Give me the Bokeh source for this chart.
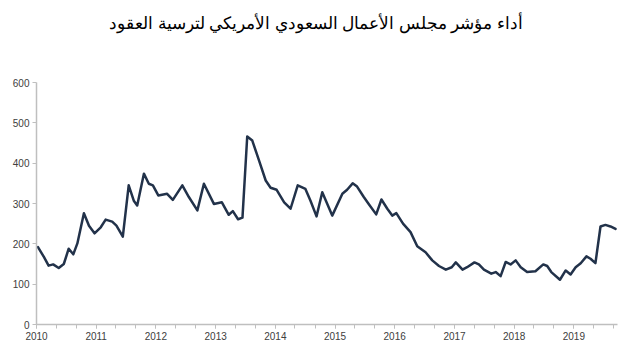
import pandas as pd
from datetime import datetime
from bokeh.plotting import figure
from bokeh.models import Range1d, FixedTicker, ColumnDataSource, Label
from bokeh.embed import file_html
from bokeh.resources import INLINE

title_text = "أداء مؤشر مجلس الأعمال السعودي الأمريكي لترسية العقود"

dates = [
    "2010-01-10", "2010-02-16", "2010-03-16", "2010-04-13", "2010-05-17", "2010-06-17",
    "2010-07-17", "2010-08-14", "2010-09-08", "2010-10-18", "2010-11-18", "2010-12-22",
    "2011-01-29", "2011-02-28", "2011-04-09", "2011-05-05", "2011-06-13", "2011-07-19",
    "2011-08-19", "2011-09-09", "2011-10-20", "2011-11-19", "2011-12-14", "2012-01-16",
    "2012-03-10", "2012-04-14", "2012-06-11", "2012-07-21", "2012-09-11", "2012-10-21",
    "2012-12-21", "2013-02-08", "2013-03-22", "2013-04-16", "2013-05-18", "2013-06-14",
    "2013-07-13", "2013-08-13", "2013-09-23", "2013-11-03", "2013-12-03", "2014-01-09",
    "2014-02-24", "2014-04-04", "2014-05-18", "2014-07-04", "2014-08-04", "2014-09-10",
    "2014-10-15", "2014-12-15", "2015-02-15", "2015-03-16", "2015-04-19", "2015-05-16",
    "2015-06-26", "2015-07-26", "2015-09-10", "2015-10-12", "2015-11-17", "2015-12-17",
    "2016-01-11", "2016-02-21", "2016-04-07", "2016-05-18", "2016-07-08", "2016-08-18",
    "2016-09-28", "2016-11-09", "2016-12-15", "2017-01-09", "2017-02-19", "2017-03-19",
    "2017-05-03", "2017-05-30", "2017-06-30", "2017-08-14", "2017-09-10", "2017-10-10",
    "2017-11-10", "2017-12-10", "2018-01-10", "2018-02-10", "2018-03-21", "2018-05-11",
    "2018-06-28", "2018-07-22", "2018-08-16", "2018-10-08", "2018-11-12", "2018-12-12",
    "2019-01-12", "2019-02-12", "2019-03-19", "2019-04-13", "2019-05-13", "2019-06-13",
    "2019-07-13", "2019-08-13", "2019-09-13",
]
values = [
    192, 167, 146, 149, 140, 150,
    188, 174, 201, 276, 245, 226,
    241, 260, 255, 245, 218, 345,
    307, 295, 374, 349, 345, 320,
    324, 309, 345, 316, 283, 349,
    299, 303, 272, 281, 261, 265,
    466, 456, 407, 357, 339, 334,
    303, 287, 345, 336, 307, 268,
    328, 270, 324, 334, 350, 342,
    316, 299, 273, 310, 287, 270,
    276, 250, 229, 194, 179, 159,
    145, 136, 142, 154, 136, 142,
    154, 149, 136, 126, 130, 120,
    155, 149, 159, 142, 130, 132,
    149, 145, 130, 111, 134, 124,
    142, 152, 169, 163, 152, 243,
    247, 243, 237,
]
year_labels = ["2010", "2011", "2012", "2013", "2014", "2015", "2016", "2017", "2018", "2019"]
y_ticks = [0, 100, 200, 300, 400, 500, 600]

src = ColumnDataSource(dict(date=pd.to_datetime(dates), value=values))

# frame extends up to the title area; the y axis itself is bounded to 0..600
p = figure(width=631, height=358, output_backend="svg", toolbar_location=None,
           x_axis_type="datetime",
           x_range=Range1d(datetime(2010, 1, 1), datetime(2019, 9, 25)),
           y_range=Range1d(0, 600 * 318 / 242),
           min_border_left=36, min_border_right=14, min_border_top=6, min_border_bottom=34)
p.title = None

title = Label(x=279.5, y=302, x_units="screen", y_units="screen", text=title_text,
              text_align="center", text_baseline="middle",
              text_font="Liberation Sans", text_font_size="16.5px", text_color="#000000")
p.add_layout(title)

p.line("date", "value", source=src, line_color="#22324a", line_width=2.5,
       line_join="round", line_cap="round")

def ms(ts):
    return pd.Timestamp(ts).value / 1e6

year_ticks = [ms(y + "-01-01") for y in year_labels]
minor = [ms(d) for d in pd.date_range("2010-01-01", "2019-09-01", freq="4MS")]
p.xaxis.ticker = FixedTicker(ticks=year_ticks, minor_ticks=minor)
p.xaxis.major_label_overrides = {t: lab for t, lab in zip(year_ticks, year_labels)}
p.yaxis.ticker = FixedTicker(ticks=y_ticks, minor_ticks=[])
p.yaxis.bounds = (0, 600)

for ax in (p.xaxis[0], p.yaxis[0]):
    ax.axis_line_color = "#bfbfbf"
    ax.axis_line_width = 1.5
    ax.major_tick_line_color = "#bfbfbf"
    ax.minor_tick_line_color = "#bfbfbf"
    ax.major_tick_in = 0
    ax.minor_tick_in = 0
    ax.major_label_text_font = "Liberation Sans"
    ax.major_label_text_font_size = "10px"
    ax.major_label_text_color = "#404040"

p.xaxis.major_tick_out = 4
p.xaxis.minor_tick_out = 4
p.xaxis.major_label_standoff = 3
p.yaxis.major_tick_out = 4
p.yaxis.major_label_standoff = 3

p.xgrid.visible = False
p.ygrid.visible = False
p.outline_line_color = None
p.background_fill_color = "white"
p.border_fill_color = "white"

open("out.html", "w").write(file_html(p, INLINE))
